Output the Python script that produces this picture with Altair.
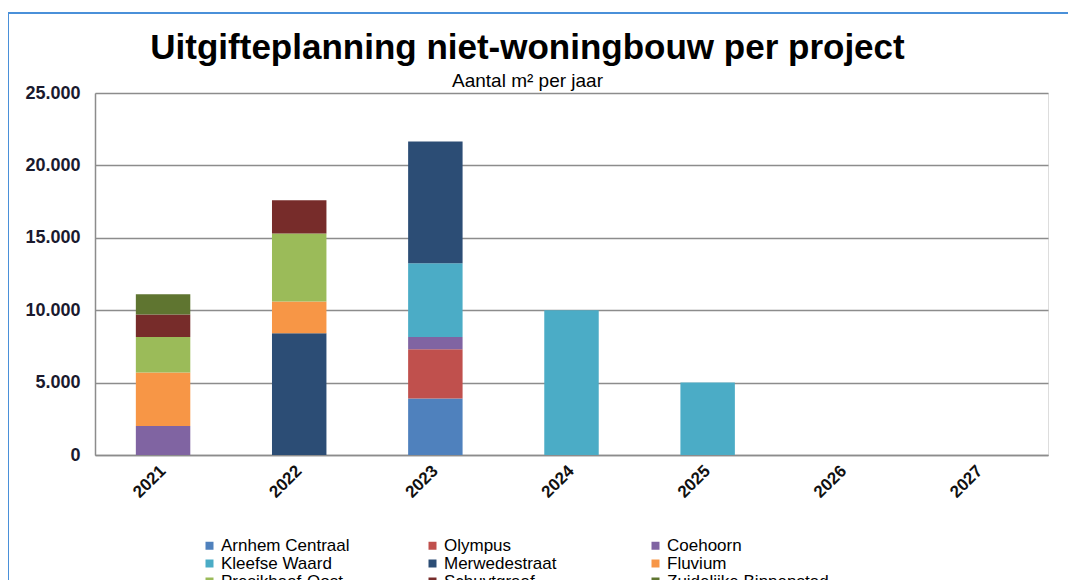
import altair as alt
import pandas as pd

years = ["2021", "2022", "2023", "2024", "2025", "2026", "2027"]
projects = [
    "Arnhem Centraal", "Olympus", "Coehoorn",
    "Kleefse Waard", "Merwedestraat", "Fluvium",
    "Presikhaaf-Oost", "Schuytgraaf", "Zuidelijke Binnenstad",
]
colors = [
    "#4F81BD", "#C0504D", "#8064A2",
    "#4BACC6", "#2C4D75", "#F79646",
    "#9BBB59", "#772C2A", "#5F7530",
]

arnhem_centraal = [0, 0, 3900, 0, 0, 0, 0]
olympus = [0, 0, 3400, 0, 0, 0, 0]
coehoorn = [2000, 0, 850, 0, 0, 0, 0]
kleefse_waard = [0, 0, 5100, 10000, 5000, 0, 0]
merwedestraat = [0, 8400, 8400, 0, 0, 0, 0]
fluvium = [3700, 2200, 0, 0, 0, 0, 0]
presikhaaf_oost = [2450, 4700, 0, 0, 0, 0, 0]
schuytgraaf = [1550, 2300, 0, 0, 0, 0, 0]
zuidelijke_binnenstad = [1400, 0, 0, 0, 0, 0, 0]

series = [arnhem_centraal, olympus, coehoorn, kleefse_waard, merwedestraat,
          fluvium, presikhaaf_oost, schuytgraaf, zuidelijke_binnenstad]

y_ticks = [0, 5000, 10000, 15000, 20000, 25000]

rows = []
for i, (name, vals) in enumerate(zip(projects, series)):
    for yr, v in zip(years, vals):
        if v > 0:
            rows.append({"jaar": yr, "project": name, "m2": v, "idx": i})
df = pd.DataFrame(rows)

FONT = "Liberation Sans"

bars = alt.Chart(df).mark_bar().encode(
    x=alt.X("jaar:N", title=None,
            scale=alt.Scale(domain=years, paddingInner=0.6, paddingOuter=0.3),
            axis=alt.Axis(labelAngle=-45, labelAlign="right", labelBaseline="middle",
                          labelPadding=13, ticks=False, domainColor="#8c8c8c",
                          domainWidth=1.5, labelFont=FONT, labelFontSize=17,
                          labelFontWeight="bold", labelColor="#111111", grid=False)),
    y=alt.Y("m2:Q", title=None, stack="zero",
            scale=alt.Scale(domain=[0, 25000], nice=False),
            axis=alt.Axis(values=y_ticks,
                          labelExpr="replace(format(datum.value, ','), ',', '.')",
                          grid=True, gridColor="#8c8c8c", gridWidth=1.5,
                          domainColor="#8c8c8c", domainWidth=1.5, ticks=False,
                          labelPadding=15, labelFont=FONT, labelFontSize=18,
                          labelFontWeight="bold", labelColor="#1a1a2e")),
    color=alt.Color("project:N",
                    scale=alt.Scale(domain=projects, range=colors),
                    legend=alt.Legend(title=None, orient="none", direction="horizontal",
                                      legendX=106, legendY=444,
                                      columns=3, gridAlign="all", columnPadding=41,
                                      rowPadding=0, padding=0,
                                      symbolType="square", symbolSize=64,
                                      symbolStrokeWidth=0, symbolOffset=0,
                                      labelFont=FONT, labelFontSize=17,
                                      labelColor="#000000", labelOffset=3,
                                      labelLimit=300)),
    order=alt.Order("idx:Q", sort="ascending"),
)

frame = alt.Chart(pd.DataFrame({"k": [0]})).mark_rule(color="#4a90d9", strokeWidth=2).encode(
    x=alt.value(-87), y=alt.value(-80), y2=alt.value(600)
) + alt.Chart(pd.DataFrame({"k": [0]})).mark_rule(color="#4a90d9", strokeWidth=2).encode(
    x=alt.value(-87), x2=alt.value(1100), y=alt.value(-80)
)

chart = alt.layer(frame, bars).properties(
    width=953, height=362,
    autosize=alt.AutoSizeParams(type="none"),
    padding={"left": 87, "top": 85, "right": 20, "bottom": 125},
    title=alt.TitleParams(
        text="Uitgifteplanning niet-woningbouw per project",
        subtitle="Aantal m² per jaar",
        font=FONT, fontSize=35, fontWeight="bold", color="#000000",
        subtitleFont=FONT, subtitleFontSize=19, subtitleColor="#000000",
        anchor="middle", frame="group", dx=-44, dy=81, offset=2, subtitlePadding=6,
    ),
).configure_view(stroke=None).configure(background="white")

chart.save("out.html", embed_options={"renderer": "svg", "actions": False})
